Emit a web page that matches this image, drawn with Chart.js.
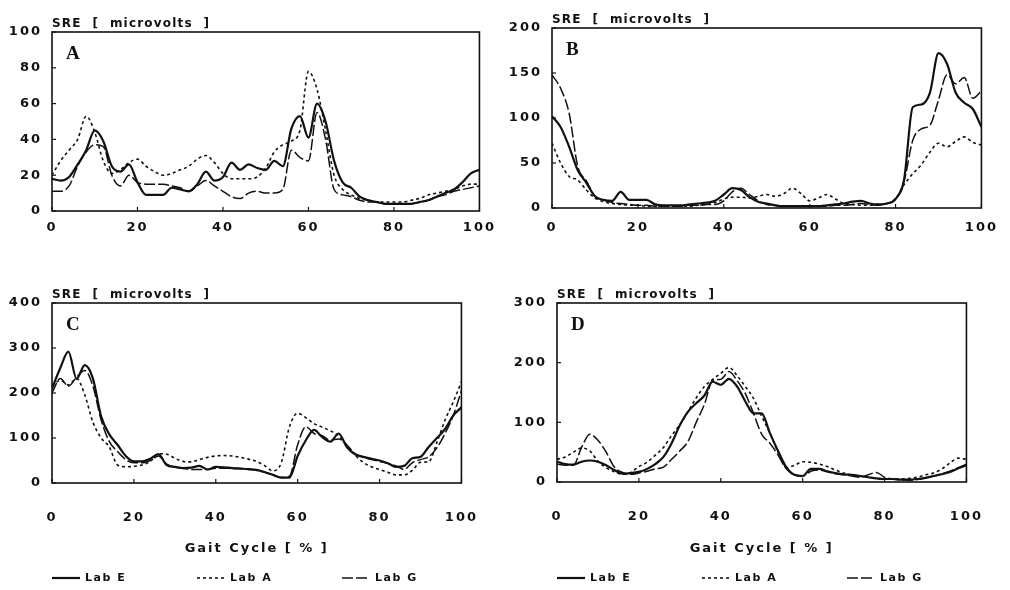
<!DOCTYPE html>
<html>
<head>
<meta charset="utf-8">
<script src="https://cdn.jsdelivr.net/npm/chart.js@4.4.0/dist/chart.umd.min.js"></script>
<style>
  body { margin: 0; background: #fff; width: 1010px; height: 590px; position: relative; overflow: hidden; }
  canvas { position: absolute; }
</style>
</head>
<body>
<canvas id="chartA" width="505" height="250" style="left:0;top:0"></canvas>
<canvas id="chartB" width="505" height="250" style="left:505px;top:0"></canvas>
<canvas id="chartC" width="505" height="320" style="left:0;top:270px"></canvas>
<canvas id="chartD" width="505" height="320" style="left:505px;top:270px"></canvas>
<script>
// gait cycle, percent (every 2 %)
const gaitPct = [0,2,4,6,8,10,12,14,16,18,20,22,24,26,28,30,32,34,36,38,40,42,44,46,48,50,
  52,54,56,58,60,62,64,66,68,70,72,74,76,78,80,82,84,86,88,90,92,94,96,98,100];
const xTicks = [0, 20, 40, 60, 80, 100];
const labNames = ['Lab E', 'Lab A', 'Lab G'];

// panel A, SRE in microvolts
const aLabE = [18,17,19,26,34,45,39,25,22,26,16,9,9,9,13,12,11,15,22,17,19,27,23,26,24,23,
  28,25,46,53,41,60,50,28,16,13,8,6,5,4,4,4,4,5,6,8,10,12,16,21,23];
const aLabA = [20,28,34,40,53,44,28,21,23,27,29,25,22,20,21,23,25,29,31,27,21,18,18,18,19,24,
  33,37,39,45,78,68,45,20,12,9,7,6,5,5,5,5,6,7,9,10,11,12,14,15,15];
const aLabG = [11,11,14,25,33,37,36,20,14,20,16,15,15,15,14,13,11,14,17,14,11,8,7,10,11,10,
  10,12,34,30,28,55,40,12,9,8,6,5,5,4,4,4,4,5,6,8,9,11,12,13,14];

// panel B
const bLabE = [102,90,68,42,28,13,9,8,18,9,9,9,4,3,3,3,4,5,6,8,15,22,20,12,7,5,
  3,2,2,2,2,2,3,4,5,7,8,5,4,5,10,32,112,115,128,172,160,128,117,110,90];
const bLabA = [72,50,35,31,20,11,7,5,4,3,3,2,2,2,2,2,2,3,4,6,10,12,12,11,13,15,
  13,16,22,16,8,11,15,10,5,4,3,3,4,5,10,26,38,48,62,72,68,74,79,73,70];
const bLabG = [148,133,105,46,30,13,9,6,5,4,3,3,2,2,2,2,3,3,4,4,8,18,22,15,8,4,
  3,2,2,2,2,2,2,3,3,4,5,4,3,5,10,30,75,88,92,120,148,138,145,122,130];

// panel C
const cLabE = [210,255,292,232,262,232,148,108,85,60,48,48,54,64,40,36,33,34,38,30,36,35,33,32,31,29,
  24,18,12,12,60,95,118,102,92,110,80,64,58,54,50,44,36,38,55,58,80,100,120,150,168];
const cLabA = [215,228,218,232,196,135,100,80,40,36,37,40,48,65,64,55,48,47,52,57,60,61,60,57,53,48,
  38,27,45,125,155,145,132,124,116,105,84,62,46,36,30,24,18,18,28,46,47,90,140,180,225];
const cLabG = [200,232,215,235,250,215,140,92,70,52,45,45,50,60,42,35,33,30,30,30,33,33,32,32,30,28,
  24,18,12,15,85,125,110,105,95,98,85,65,58,52,48,44,38,30,45,52,58,78,110,150,205];

// panel D
const dLabE = [34,30,29,34,36,34,28,20,14,15,17,22,30,42,65,95,118,132,145,168,163,173,160,135,115,115,
  82,52,25,12,10,22,22,18,15,13,12,10,8,6,5,5,4,4,5,7,10,13,17,23,28];
const dLabA = [38,42,50,57,52,35,24,17,13,16,26,33,45,58,78,96,118,141,160,172,182,192,178,160,140,110,
  82,50,24,28,34,33,30,26,20,15,12,10,8,6,5,5,5,6,8,12,15,22,32,40,38];
const dLabG = [30,28,28,58,80,70,50,25,16,13,15,18,22,25,38,52,68,100,130,170,172,185,170,148,115,80,
  65,45,22,12,10,18,20,17,14,12,10,8,12,16,8,5,4,3,4,7,10,14,18,24,30];

const INK = '#111';
const SANS = '"DejaVu Sans", sans-serif';
const SPACING = '2px';

// frame, inner tick marks, unit label, panel letter and legend
const paperFrame = {
  id: 'paperFrame',
  beforeUpdate(chart) { chart.ctx.letterSpacing = SPACING; },
  beforeDraw(chart) { chart.ctx.letterSpacing = SPACING; },
  afterDraw(chart, args, opts) {
    const ctx = chart.ctx;
    const a = chart.chartArea;
    const xs = chart.scales.x, ys = chart.scales.y;
    ctx.save();
    ctx.strokeStyle = INK;
    ctx.lineWidth = 1.6;
    ctx.strokeRect(a.left, a.top, a.right - a.left, a.bottom - a.top);

    ctx.lineWidth = 1.2;
    xs.ticks.forEach(t => {
      const x = xs.getPixelForValue(t.value);
      ctx.beginPath(); ctx.moveTo(x, a.bottom); ctx.lineTo(x, a.bottom - 4); ctx.stroke();
    });
    ys.ticks.forEach(t => {
      const y = ys.getPixelForValue(t.value);
      ctx.beginPath(); ctx.moveTo(a.left, y); ctx.lineTo(a.left + 4, y); ctx.stroke();
    });

    ctx.fillStyle = INK;
    ctx.letterSpacing = '1.2px';
    ctx.font = 'bold 12px ' + SANS;
    ctx.textAlign = 'left';
    ctx.textBaseline = 'alphabetic';
    ctx.fillText('SRE  [  microvolts  ]', a.left, a.top - 5);

    ctx.letterSpacing = '0px';
    ctx.font = 'bold 19px "Liberation Serif", serif';
    ctx.textBaseline = 'top';
    ctx.fillText(opts.letter, a.left + 14, a.top + 13);

    if (opts.legendY) {
      ctx.letterSpacing = '1.5px';
      ctx.font = 'bold 11px ' + SANS;
      ctx.textBaseline = 'middle';
      chart.data.datasets.forEach((ds, i) => {
        const x0 = a.left + i * 145;
        ctx.save();
        ctx.lineWidth = ds.borderWidth;
        ctx.setLineDash(ds.borderDash);
        ctx.beginPath(); ctx.moveTo(x0, opts.legendY); ctx.lineTo(x0 + 28, opts.legendY); ctx.stroke();
        ctx.restore();
        ctx.fillText(ds.label, x0 + 33, opts.legendY);
      });
    }
    ctx.restore();
  }
};

function makePanel(id, letter, series, yMax, yStep, box) {
  const styles = [
    { borderWidth: 2.2, borderDash: [] },
    { borderWidth: 1.6, borderDash: [3, 3] },
    { borderWidth: 1.5, borderDash: [11, 3] }
  ];
  const tickFont = { family: SANS, size: 13, weight: 'bold' };
  return new Chart(document.getElementById(id), {
    type: 'line',
    data: {
      labels: gaitPct,
      datasets: series.map((vals, i) => ({
        label: labNames[i],
        data: vals,
        borderColor: INK,
        borderWidth: styles[i].borderWidth,
        borderDash: styles[i].borderDash,
        pointRadius: 0,
        fill: false,
        cubicInterpolationMode: 'monotone'
      }))
    },
    options: {
      responsive: false,
      animation: false,
      layout: { padding: { left: 0, right: box.right, top: box.top, bottom: 0 } },
      plugins: {
        legend: { display: false },
        tooltip: { enabled: false },
        paperFrame: { letter: letter, legendY: box.legendY }
      },
      scales: {
        x: {
          type: 'linear', min: 0, max: 100,
          afterBuildTicks: s => { s.ticks = xTicks.map(v => ({ value: v })); },
          afterFit: s => { s.height = box.bottom; },
          grid: { display: false, drawTicks: false },
          border: { display: false },
          ticks: { color: INK, font: tickFont, padding: box.xPad, maxRotation: 0 },
          title: {
            display: !!box.legendY,
            text: 'Gait Cycle [ % ]',
            color: INK,
            font: { family: SANS, size: 13, weight: 'bold' },
            padding: { top: 0, bottom: 34 }
          }
        },
        y: {
          min: 0, max: yMax,
          afterFit: s => { s.width = box.left; },
          grid: { display: false, drawTicks: false },
          border: { display: false },
          ticks: { stepSize: yStep, color: INK, font: tickFont, padding: 10 }
        }
      }
    },
    plugins: [paperFrame]
  });
}

makePanel('chartA', 'A', [aLabE, aLabA, aLabG], 100, 20, { left: 52, right: 17, top: 32, bottom: 39, xPad: 9 });
makePanel('chartB', 'B', [bLabE, bLabA, bLabG], 200, 50, { left: 47, right: 23, top: 28, bottom: 42, xPad: 12 });
makePanel('chartC', 'C', [cLabE, cLabA, cLabG], 400, 100, { left: 52, right: 17, top: 33, bottom: 107, xPad: 27, legendY: 308 });
makePanel('chartD', 'D', [dLabE, dLabA, dLabG], 300, 100, { left: 52, right: 20, top: 33, bottom: 108, xPad: 27, legendY: 308 });
</script>
</body>
</html>
